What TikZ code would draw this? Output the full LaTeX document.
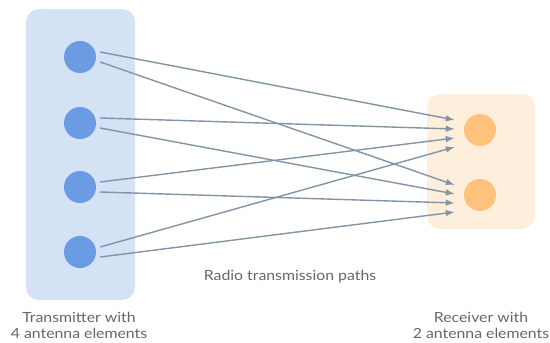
\documentclass[tikz,border=0pt]{standalone}
\usepackage{fontspec}
\setmainfont[FakeStretch=1.13]{Lato}
\usepackage{xcolor}
\usetikzlibrary{arrows.meta,positioning}
\definecolor{txbox}{HTML}{D3E2F5}
\definecolor{txdot}{HTML}{6B9BE3}
\definecolor{rxbox}{HTML}{FEEEDC}
\definecolor{rxdot}{HTML}{FFC27D}
\definecolor{path}{HTML}{8294A6}
\definecolor{caption}{HTML}{666666}
\tikzset{
	antenna/.style={circle,minimum size=32pt,inner sep=0pt,draw=none},
	tx/.style={antenna,fill=txdot},
	rx/.style={antenna,fill=rxdot},
	unit box/.style={rounded corners=13pt,draw=none},
	ray/.style={path,line width=1.4pt,-{Latex[length=9pt,width=6.5pt]}},
	caption/.style={text=caption,font=\fontsize{14}{16}\selectfont,align=center}
}
\begin{document}
\begin{tikzpicture}[x=1pt,y=-1pt]
	\useasboundingbox (0,0) rectangle (550,343);
	\fill[unit box,txbox] (26,9) rectangle (135,300);
	\fill[unit box,rxbox] (427,94) rectangle (535,229);
	\foreach \i/\y in {1/57,2/123,3/187,4/252}
		\node[tx] (tx\i) at (80,\y) {};
	\node[rx] (rx1) at (480,130) {};
	\node[rx] (rx2) at (480,195) {};
	% every element reaches both receiver elements
	\foreach \i in {1,...,4}{
		\pgfmathsetmacro{\dy}{(\i-1)*9-10}
		\draw[ray] ([shift={(4,-5)}]tx\i.east) -- ([shift={(-9,\dy)}]rx1.west);
		\draw[ray] ([shift={(4,5)}]tx\i.east) -- ([shift={(-9,\dy)}]rx2.west);
	}
	\node[caption] (txlabel) at (79,325) {Transmitter with\\4 antenna elements};
	\node[caption] (rxlabel) at (481,325) {Receiver with\\2 antenna elements};
	\node[caption] (paths) at (290,277) {Radio transmission paths};
\end{tikzpicture}
\end{document}
